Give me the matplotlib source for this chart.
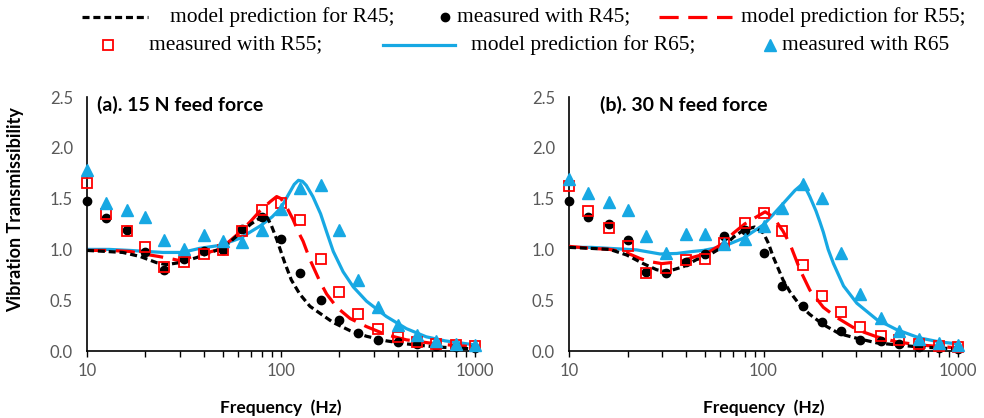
import matplotlib
matplotlib.use("Agg")
import matplotlib.pyplot as plt
from matplotlib.lines import Line2D
from matplotlib.ticker import FixedLocator, NullFormatter

# measurement frequencies (1/3 octave bands)
freq = [10, 12.5, 16, 20, 25, 31.5, 40, 50, 63, 80, 100, 125, 160, 200,
        250, 315, 400, 500, 630, 800, 1000]

# (a) 15 N feed force - measured
meas15_r45 = [1.48, 1.31, 1.19, 0.97, 0.80, 0.91, 0.98, 0.99, 1.20, 1.32, 1.10,
              0.77, 0.50, 0.31, 0.18, 0.11, 0.09, 0.07, 0.05, 0.04, 0.03]
meas15_r55 = [1.65, 1.35, 1.18, 1.02, 0.83, 0.88, 0.95, 0.99, 1.18, 1.39, 1.46,
              1.29, 0.91, 0.58, 0.36, 0.22, 0.14, 0.09, 0.07, 0.06, 0.05]
meas15_r65 = [1.78, 1.46, 1.39, 1.32, 1.09, 1.00, 1.14, 1.08, 1.07, 1.19, 1.40,
              1.60, 1.63, 1.19, 0.70, 0.43, 0.26, 0.16, 0.10, 0.07, 0.06]

# (b) 30 N feed force - measured
meas30_r45 = [1.48, 1.32, 1.25, 1.09, 0.78, 0.77, 0.88, 0.95, 1.13, 1.19, 0.96,
              0.64, 0.44, 0.29, 0.20, 0.11, 0.10, 0.07, 0.04, 0.03, 0.02]
meas30_r55 = [1.62, 1.38, 1.21, 1.03, 0.77, 0.82, 0.90, 0.91, 1.06, 1.26, 1.36,
              1.18, 0.85, 0.54, 0.38, 0.24, 0.15, 0.11, 0.07, 0.05, 0.04]
meas30_r65 = [1.69, 1.56, 1.47, 1.39, 1.13, 0.96, 1.15, 1.15, 1.05, 1.10, 1.23,
              1.41, 1.64, 1.51, 0.96, 0.56, 0.32, 0.20, 0.12, 0.08, 0.06]

# model predictions (frequency, transmissibility)
model15_r45_f = [10, 12.5, 15.3, 18.8, 22.8, 25.7, 30, 36.8, 44.6, 50, 61.5, 70,
                 79.5, 84, 89, 95, 104.5, 113, 125, 141, 159, 186, 227, 276,
                 349, 443, 630, 1000]
model15_r45 = [0.99, 0.98, 0.97, 0.93, 0.87, 0.85, 0.87, 0.92, 0.98, 1.01, 1.16,
               1.25, 1.32, 1.33, 1.24, 1.10, 0.87, 0.70, 0.56, 0.44, 0.37, 0.28,
               0.20, 0.145, 0.10, 0.07, 0.04, 0.02]
model15_r55_f = [10, 13, 16.6, 20.3, 23.5, 26.8, 30, 38, 48.5, 61.5, 70, 78, 88,
                 95, 100, 108, 115, 123, 130, 141, 159, 172, 194, 227, 276, 349,
                 443, 630, 1000]
model15_r55 = [0.99, 0.99, 0.98, 0.95, 0.93, 0.91, 0.89, 0.95, 1.00, 1.17, 1.28,
               1.38, 1.47, 1.52, 1.50, 1.40, 1.30, 1.17, 1.08, 0.90, 0.68, 0.56,
               0.43, 0.32, 0.24, 0.16, 0.11, 0.07, 0.04]
model15_r65_f = [10, 13, 16.6, 24.6, 31, 38, 48.5, 61.5, 78, 90, 100, 110, 117,
                 123, 129, 135, 146, 160, 172, 186, 209, 236, 276, 349, 443, 560,
                 700, 1000]
model15_r65 = [1.00, 1.00, 0.99, 0.97, 0.97, 1.01, 1.04, 1.11, 1.23, 1.32, 1.41,
               1.55, 1.64, 1.68, 1.67, 1.63, 1.52, 1.35, 1.17, 0.98, 0.78, 0.63,
               0.49, 0.34, 0.22, 0.14, 0.10, 0.06]

model30_r45_f = [10, 13, 16.2, 19.8, 24.1, 28.2, 31.8, 38.7, 45.3, 51, 62.3, 70,
                 79, 90, 100, 106, 112, 126, 137, 154, 173, 203, 246, 302, 382,
                 484, 630, 1000]
model30_r45 = [1.02, 1.01, 1.00, 0.945, 0.86, 0.80, 0.78, 0.83, 0.90, 0.93, 1.03,
               1.12, 1.19, 1.22, 1.16, 1.06, 0.93, 0.70, 0.58, 0.45, 0.36, 0.26,
               0.17, 0.125, 0.08, 0.06, 0.04, 0.02]
model30_r55_f = [10, 13, 16.2, 19.6, 23.2, 26, 30, 37.2, 43, 51, 62, 70, 80, 92,
                 102, 112, 126, 137, 154, 173, 203, 238, 302, 382, 484, 630, 1000]
model30_r55 = [1.03, 1.01, 1.00, 0.97, 0.91, 0.88, 0.86, 0.88, 0.92, 0.96, 1.06,
               1.16, 1.25, 1.32, 1.37, 1.32, 1.18, 1.05, 0.80, 0.60, 0.43, 0.33,
               0.21, 0.14, 0.09, 0.06, 0.03]
model30_r65_f = [10, 13, 16.2, 22.3, 29.4, 35.8, 43.4, 49.2, 62.3, 78.7, 99.6,
                 113, 126, 145, 160, 173, 186, 195, 203, 215, 229, 258, 302, 382,
                 484, 630, 800, 1000]
model30_r65 = [1.02, 1.02, 1.01, 0.995, 0.955, 0.96, 0.98, 0.99, 1.03, 1.11, 1.24,
               1.35, 1.45, 1.58, 1.65, 1.52, 1.38, 1.27, 1.17, 1.00, 0.86, 0.64,
               0.47, 0.31, 0.21, 0.13, 0.09, 0.07]

panels = [
    ("(a). 15 N feed force",
     (model15_r45_f, model15_r45), (model15_r55_f, model15_r55),
     (model15_r65_f, model15_r65), meas15_r45, meas15_r55, meas15_r65),
    ("(b). 30 N feed force",
     (model30_r45_f, model30_r45), (model30_r55_f, model30_r55),
     (model30_r65_f, model30_r65), meas30_r45, meas30_r55, meas30_r65),
]

BLUE = "#17A8E3"
RED = "#FF0000"
GREY = "#595959"
sans = "Lato"
serif = "Liberation Serif"
BLACK_DASH = (2.2, 1.2)
RED_DASH = (6, 3)

W, H = 984, 418
fig = plt.figure(figsize=(W / 100, H / 100), dpi=100)

def fx(x):
    return x / W

def fy(y):
    return 1 - y / H

axes_px = [(87, 475), (569, 958)]
title_x = [0.026, 0.08]

for (x0, x1), tx, (title, m45, m55, m65, d45, d55, d65) in zip(axes_px, title_x, panels):
    ax = fig.add_axes([fx(x0), fy(351), fx(x1 - x0), (351 - 97) / H])
    ax.plot(*m65, color=BLUE, lw=2.3, zorder=2)
    ax.plot(*m55, color=RED, lw=2.3, dashes=RED_DASH, zorder=3)
    ax.plot(*m45, color="black", lw=2.3, dashes=BLACK_DASH, zorder=4)
    ax.plot(freq, d45, "o", color="black", ms=6, zorder=5, clip_on=False)
    ax.plot(freq, d55, "s", mfc="none", mec=RED, mew=1.3, ms=6.5, zorder=6,
            clip_on=False)
    ax.plot(freq, d65, "^", color=BLUE, ms=8, zorder=7, clip_on=False)

    ax.set_xscale("log")
    ax.set_xlim(10, 1000)
    ax.set_ylim(0, 2.5)
    ax.xaxis.set_major_locator(FixedLocator([10, 100, 1000]))
    ax.set_xticklabels(["10", "100", "1000"])
    ax.xaxis.set_minor_locator(FixedLocator([20, 30, 40, 50, 60, 70, 80, 90,
                                             200, 300, 400, 500, 600, 700, 800, 900]))
    ax.xaxis.set_minor_formatter(NullFormatter())
    ax.set_yticks([0, 0.5, 1.0, 1.5, 2.0, 2.5])
    ax.set_yticklabels(["0.0", "0.5", "1.0", "1.5", "2.0", "2.5"])
    ax.tick_params(axis="x", which="both", direction="out", length=4, width=1,
                   colors="black", labelcolor=GREY, labelsize=12, pad=5)
    ax.tick_params(axis="y", length=0, labelcolor=GREY, labelsize=12, pad=10)
    for lab in ax.get_xticklabels() + ax.get_yticklabels():
        lab.set_family(sans)
    for side in ("top", "right"):
        ax.spines[side].set_visible(False)
    for side in ("left", "bottom"):
        ax.spines[side].set_linewidth(1.2)
    ax.text(tx, 0.968, title, transform=ax.transAxes, fontsize=14,
            fontweight="bold", family=sans, va="center", ha="left")
    fig.text(fx((x0 + x1) / 2), fy(408), "Frequency  (Hz)", fontsize=12.5,
             fontweight="bold", family=sans, ha="center", va="center")

fig.text(fx(16), fy(210), "Vibration Transmissibility", rotation=90,
         fontsize=13, fontweight="bold", family=sans, ha="center", va="center")

# legend across the top, two rows
row1, row2 = 17, 45
fs_leg = 15.5

def handle_line(xa, xb, y, **kw):
    fig.add_artist(Line2D([fx(xa), fx(xb)], [fy(y), fy(y)],
                          transform=fig.transFigure, **kw))

def handle_marker(x, y, **kw):
    fig.add_artist(Line2D([fx(x)], [fy(y)], transform=fig.transFigure,
                          linestyle="none", **kw))

def label(x, y, s):
    fig.text(fx(x), fy(y), s, fontsize=fs_leg, family=serif, ha="left",
             va="center")

handle_line(82, 148, row1, color="black", lw=2.3, dashes=BLACK_DASH)
label(170, row1, "model prediction for R45;")
handle_marker(445, row1, marker="o", color="black", ms=6)
label(457, row1, "measured with R45;")
handle_line(659, 732, row1, color=RED, lw=2.3, dashes=RED_DASH)
label(741, row1, "model prediction for R55;")

handle_marker(108, row2, marker="s", mfc="none", mec=RED, mew=1.3, ms=6.5)
label(149, row2, "measured with R55;")
handle_line(383, 455, row2, color=BLUE, lw=2.3)
label(471, row2, "model prediction for R65;")
handle_marker(770, row2, marker="^", color=BLUE, ms=8)
label(782, row2, "measured with R65")

fig.savefig("out.png", dpi=100)
